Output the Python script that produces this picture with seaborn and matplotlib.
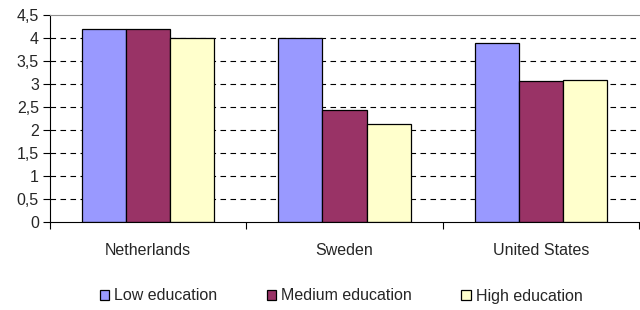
import matplotlib
matplotlib.use("Agg")
import matplotlib.pyplot as plt
import seaborn as sns
import pandas as pd
from matplotlib.ticker import FuncFormatter, FixedLocator

countries = ["Netherlands", "Sweden", "United States"]
levels = ["Low education", "Medium education", "High education"]
low = [4.2, 4.0, 3.9]
medium = [4.2, 2.43, 3.07]
high = [4.0, 2.12, 3.09]
colors = ["#9999FF", "#993366", "#FFFFCC"]

rows = []
for lvl, vals in zip(levels, [low, medium, high]):
    for c, v in zip(countries, vals):
        rows.append({"country": c, "level": lvl, "value": v})
df = pd.DataFrame(rows)

sns.set_style("white")
plt.rcParams["font.family"] = ["Liberation Sans", "DejaVu Sans"]

fig = plt.figure(figsize=(6.4, 3.1), dpi=100)
ax = fig.add_axes([50/640, (310-222)/310, 589/640, (222-15)/310])

sns.barplot(data=df, x="country", y="value", hue="level", order=countries,
            hue_order=levels, palette=colors, width=0.675, edgecolor="black",
            linewidth=0.9, ax=ax, legend=True, saturation=1)

ax.set_xlim(-0.5, 2.5)
ax.set_ylim(0, 4.5)
ax.set_yticks([i * 0.5 for i in range(10)])
ax.yaxis.set_major_formatter(FuncFormatter(lambda v, p: ("%g" % v).replace(".", ",")))
ax.set_axisbelow(True)
for yv in [i * 0.5 for i in range(1, 9)]:
    ax.axhline(yv, color="black", linewidth=0.8, linestyle=(0, (5, 4)), zorder=0)

ax.set_xlabel("")
ax.set_ylabel("")
ax.spines["right"].set_visible(False)
ax.spines["top"].set_color("#909090")
ax.spines["top"].set_linewidth(0.8)
ax.spines["left"].set_color("black")
ax.spines["bottom"].set_color("black")
ax.spines["left"].set_linewidth(0.8)
ax.spines["bottom"].set_linewidth(0.8)

fs = 11.5
ax.tick_params(axis="y", which="major", left=True, length=5, width=0.8,
               direction="out", labelsize=fs, pad=3, color="black")
ax.tick_params(axis="x", which="major", length=0, labelsize=fs, pad=15)
ax.xaxis.set_minor_locator(FixedLocator([-0.5, 0.5, 1.5, 2.5]))
ax.tick_params(axis="x", which="minor", bottom=True, length=5, width=0.8,
               direction="out", color="black")

handles, labels = ax.get_legend_handles_labels()
ax.legend_.remove()
fig.legend(handles, labels, loc="center", bbox_to_anchor=(341/640, 1 - 296/310),
           ncol=3, frameon=False, fontsize=fs, handlelength=0.6,
           handleheight=0.6, handletextpad=0.3, columnspacing=3.1)

fig.savefig("out.png", dpi=100)
